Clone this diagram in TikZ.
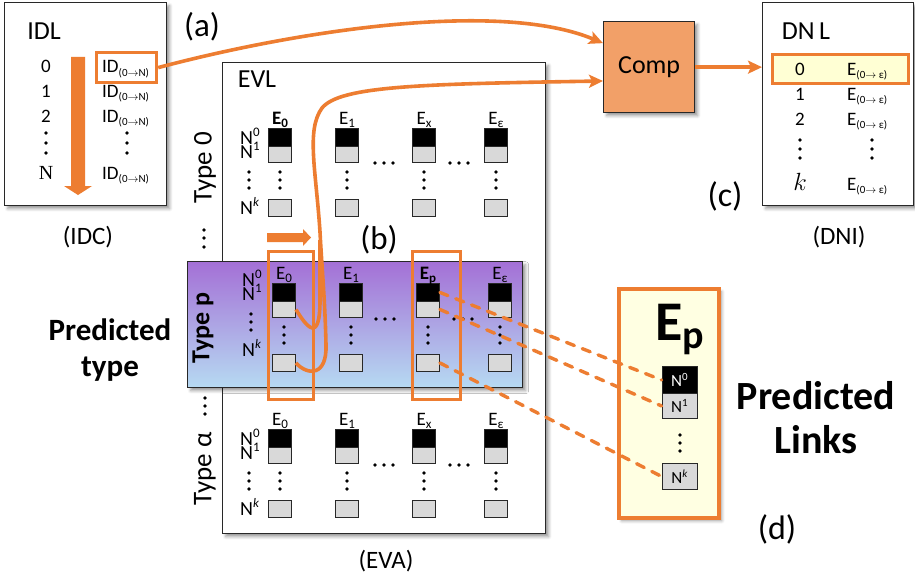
\documentclass[tikz,border=0pt]{standalone}
\usepackage{fontspec}
\setmainfont{Carlito}
\newfontfamily\timesfam{Liberation Serif}
\usetikzlibrary{arrows.meta,calc,shadows.blur}
\definecolor{accent}{RGB}{237,125,49}
\definecolor{compfill}{RGB}{242,160,104}
\definecolor{cellgray}{RGB}{217,217,217}
\definecolor{paleyellow}{RGB}{255,255,226}
\definecolor{rowyellow}{RGB}{255,255,212}
\definecolor{bandtop}{RGB}{164,112,214}
\definecolor{bandbottom}{RGB}{182,218,242}
\definecolor{edge}{RGB}{40,40,40}
\newcommand\myfs[1]{\fontsize{#1}{#1}\selectfont}
\newcommand\lsub[2][13]{\raisebox{-0.35ex}{\fontsize{#1}{#1}\selectfont #2}}
\newcommand\lsup[2][13]{\raisebox{0.75ex}{\fontsize{#1}{#1}\selectfont #2}}
\newcommand\idsub{ID\lsub[11]{(0$\rightarrow$N)}}
\newcommand\esub{E\lsub[11]{(0$\rightarrow$ ε)}}
% one entity column: #1 name prefix, #2 x centre, #3 top of first cell, #4 label
\newcommand\entcol[4]{%
  \node[cell, fill=black, minimum height=18pt, anchor=north] (#1a) at (#2,#3) {};
  \node[cell, fill=cellgray, minimum height=16pt, anchor=north] (#1b) at (#2,#3+18) {};
  \node[lab, anchor=base] (#1t) at (#2,#3-4) {#4};
  \foreach \d in {44,52,60} \fill (#2,#3+\d) circle (1.9pt);
  \node[cell, fill=cellgray, minimum height=17pt, anchor=north] (#1k) at (#2,#3+71) {};
}
% N labels of one row: #1 prefix, #2 x, #3 top of first cell
\newcommand\nlabels[3]{%
  \node[nlab, anchor=base west] (#1n0) at (#2,#3+16) {N\lsup{0}};
  \node[nlab, anchor=base west] (#1n1) at (#2,#3+30) {N\lsup{1}};
  \foreach \d in {44,52,60} \fill (#2+9,#3+\d) circle (1.9pt);
  \node[nlab, anchor=base west] (#1nk) at (#2,#3+86) {N\lsup{\textit{k}}};
}
% horizontal ellipsis centred at (#1,#2)
\newcommand\hdots[2]{\foreach \d in {-9,0,9} \fill (#1+\d,#2) circle (1.9pt);}
\begin{document}
\begin{tikzpicture}[x=1pt,y=-1pt,
  box/.style={draw=edge, line width=1.3pt, fill=white, inner sep=0,
    blur shadow={shadow xshift=3pt, shadow yshift=-3pt, shadow opacity=40, shadow blur radius=3pt}},
  cell/.style={draw=edge, line width=0.9pt, minimum width=23pt, inner sep=0},
  lab/.style={inner sep=0, font=\myfs{19}},
  nlab/.style={inner sep=0, font=\myfs{20}},
  title/.style={inner sep=0, font=\myfs{26}},
  tag/.style={inner sep=0, font=\myfs{33}},
  capt/.style={inner sep=0, font=\myfs{25}},
  typelab/.style={inner sep=0, font=\myfs{27}, rotate=90},
  hl/.style={draw=accent, line width=3.2pt, inner sep=0},
  oline/.style={draw=accent, line width=3.6pt},
  oarrow/.style={oline, -{Stealth[length=14pt,width=13pt,inset=3pt]}},
  odash/.style={draw=accent, line width=3.4pt, dash pattern=on 8.5pt off 8.5pt, line cap=round},
]
\useasboundingbox (0,0) rectangle (915,578);

% ---------- ID list ----------
\node[box, anchor=north west, minimum width=162pt, minimum height=203pt] (idl) at (4,2) {};
\node[title] (idlt) at (44,31) {IDL};
\fill[accent] (71,57) -- (85,57) -- (85,186) -- (92,186) -- (78,195) -- (64,186) -- (71,186) -- cycle;
\node[lab, anchor=base] (i0) at (46,73) {0};
\node[lab, anchor=base] (i1) at (46,97) {1};
\node[lab, anchor=base] (i2) at (46,122) {2};
\foreach \d in {133,143,153} \fill (46,\d) circle (1.9pt);
\node[inner sep=0, anchor=base, font=\timesfam\myfs{20}] (iN) at (46,179) {N};
\node[lab, anchor=base west] (id0) at (102,73) {\idsub};
\node[lab, anchor=base west] (id1) at (102,97) {\idsub};
\node[lab, anchor=base west] (id2) at (102,122) {\idsub};
\foreach \d in {133,143,153} \fill (127,\d) circle (1.9pt);
\node[lab, anchor=base west] (idN) at (102,179) {\idsub};
\node[hl, anchor=north west, minimum width=60pt, minimum height=30pt] (idh) at (95,51) {};
\node[capt] (idc) at (88,237) {(IDC)};
\node[tag] (ta) at (202,27) {(a)};

% ---------- Comp ----------
\node[box, fill=compfill, anchor=north west, minimum width=91pt, minimum height=91pt,
      font=\myfs{26}] (comp) at (603,21) {Comp};
\coordinate (cin1) at ($(comp.north west)!0.24!(comp.south west)$);
\coordinate (cin2) at ($(comp.north west)!0.65!(comp.south west)$);

% ---------- DN list ----------
\node[box, anchor=north west, minimum width=151pt, minimum height=203pt] (dnl) at (762,2) {};
\node[title] (dnlt) at (806,31) {DN\,L};
\node[hl, fill=rowyellow, anchor=north west, minimum width=136pt, minimum height=29pt] (dnh) at (771,53) {};
\node[lab, anchor=base] (d0) at (800,75) {0};
\node[lab, anchor=base] (d1) at (800,100) {1};
\node[lab, anchor=base] (d2) at (800,125) {2};
\foreach \d in {140,149,158} {\fill (800,\d) circle (1.9pt); \fill (872,\d) circle (1.9pt);}
\node[inner sep=0, anchor=base, font=\myfs{27}] (dk) at (800,190) {$k$};
\node[lab, anchor=base west] (de0) at (847,75) {\esub};
\node[lab, anchor=base west] (de1) at (847,100) {\esub};
\node[lab, anchor=base west] (de2) at (847,125) {\esub};
\node[lab, anchor=base west] (dek) at (847,190) {\esub};
\node[tag, font=\myfs{34}] (tc) at (725,196) {(c)};
\node[capt] (dni) at (839,237) {(DNI)};

% ---------- EV list ----------
\node[box, anchor=north west, minimum width=323pt, minimum height=471pt] (evl) at (222,62) {};
\node[title] (evlt) at (257,79) {EVL};

% type 0
\node[typelab] (ty0) at (205,168) {Type 0};
\nlabels{z}{240}{128}
\entcol{z0}{280}{128}{\textbf{E\lsub{0}}}
\entcol{z1}{347}{128}{E\lsub{1}}
\entcol{zx}{424}{128}{E\lsub{x}}
\entcol{ze}{496}{128}{E\lsub{ε}}
\hdots{384}{163}
\hdots{459}{163}
\foreach \d in {230,238,247} \fill (204,\d) circle (1.9pt);

% arrow showing the scan direction
\fill[accent] (267,233) -- (303,233) -- (303,229) -- (311,237.5) -- (303,246) -- (303,242) -- (267,242) -- cycle;
\node[tag] (tb) at (379,240) {(b)};

% type p band
\node[box, draw=edge, top color=bandtop, bottom color=bandbottom, anchor=north west,
      minimum width=335pt, minimum height=126pt] (band) at (187,261) {};
\node[typelab, font=\bfseries\myfs{26}] (typ) at (203,328) {Type p};
\nlabels{p}{242}{270}
\entcol{p0}{284}{283}{E\lsub{0}}
\entcol{p1}{351}{283}{E\lsub{1}}
\entcol{pEp}{428}{283}{\textbf{E\lsub{p}}}
\entcol{pe}{500}{283}{E\lsub{ε}}
\hdots{385}{319}
\hdots{463}{319}

% type alpha
\node[typelab] (tya) at (205,469) {Type α};
\foreach \d in {398,406,414} \fill (205,\d) circle (1.9pt);
\nlabels{a}{240}{429}
\entcol{a0}{280}{429}{E\lsub{0}}
\entcol{a1}{347}{429}{E\lsub{1}}
\entcol{ax}{424}{429}{E\lsub{x}}
\entcol{ae}{496}{429}{E\lsub{ε}}
\hdots{384}{465}
\hdots{459}{465}
\node[capt] (eva) at (386,561) {(EVA)};

% selected columns
\node[hl, anchor=north west, minimum width=45pt, minimum height=148pt] (sel0) at (267,250) {};
\node[hl, anchor=north west, minimum width=48pt, minimum height=148pt] (selp) at (411,250) {};

\node[inner sep=0, font=\bfseries\myfs{31}, align=center] (ptype) at (110,350) {Predicted\\[5pt]type};

% ---------- predicted entity ----------
\node[box, draw=accent, line width=3.5pt, fill=paleyellow, anchor=north west,
      minimum width=100pt, minimum height=229pt] (epbox) at (617,287) {};
\node[inner sep=0, anchor=base, font=\bfseries\myfs{56}] (eptitle) at (680,340) {E\raisebox{-0.3ex}{\fontsize{40}{40}\selectfont p}};
\node[cell, fill=black, minimum width=35pt, minimum height=27pt, anchor=north, text=white,
      font=\myfs{17}] (qa) at (679.5,366) {N\lsup[11]{0}};
\node[cell, fill=cellgray, minimum width=35pt, minimum height=25pt, anchor=north,
      font=\myfs{17}] (qb) at (679.5,393) {N\lsup[11]{1}};
\foreach \d in {435,443,451} \fill (680,\d) circle (1.9pt);
\node[cell, fill=cellgray, minimum width=35pt, minimum height=26pt, anchor=north,
      font=\myfs{17}] (qk) at (679.5,463) {N\lsup[11]{\textit{k}}};
\node[inner sep=0, font=\bfseries\myfs{40}, align=center] (plinks) at (816,418) {Predicted\\[4pt]Links};
\node[tag, font=\myfs{34}] (td) at (777,529) {(d)};

% ---------- connectors ----------
\draw[oarrow] (idh.east) .. controls (300,30) and (500,0) .. (cin1);
\draw[oline] (p0b.east) .. controls (306,326) and (320,345) .. (320,300) -- (320,240);
\draw[oarrow] (p0k.east) .. controls (308,376) and (327,376) .. (326,345)
   .. controls (325,300) and (322,270) .. (320,232)
   .. controls (316,170) and (306,130) .. (322,108)
   .. controls (340,86) and (420,84) .. (cin2);
\draw[oarrow] (comp.east) -- (dnl.west |- comp.east);
\draw[odash] (pEpa.east) -- (qa.west);
\draw[odash] (pEpb.east) -- (qb.west);
\draw[odash] (pEpk.east) -- (qk.west);
\end{tikzpicture}
\end{document}
